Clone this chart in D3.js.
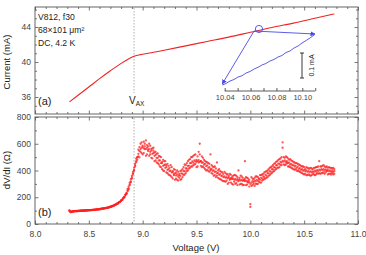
<!DOCTYPE html>
<html>
<head>
<meta charset="utf-8">
<script src="https://cdn.jsdelivr.net/npm/d3@7"></script>
<style>
  body { margin: 0; background: #fff; }
  svg { display: block; font-family: 'Liberation Sans', Arial, sans-serif; }
</style>
</head>
<body>
<svg id="chart" width="366" height="255"></svg>
<script>
// panel (a): current vs voltage
const currentV = [8.32, 8.4, 8.5, 8.6, 8.7, 8.8, 8.86, 8.92, 8.98, 9.05, 9.2, 9.4, 9.6, 9.8, 10.0, 10.2, 10.4, 10.6, 10.78]
const currentI = [35.45, 36.2, 37.15, 38.1, 39.0, 39.85, 40.3, 40.65, 40.85, 41.0, 41.35, 41.85, 42.35, 42.85, 43.4, 43.95, 44.45, 45.0, 45.5]

// inset loop (mA relative to lowest point)
const rampV = [10.0381, 10.041, 10.0441, 10.0472, 10.0503, 10.0534, 10.0565, 10.0596, 10.0627, 10.0658, 10.0688, 10.0719,
  10.075, 10.0781, 10.0812, 10.0843, 10.0874, 10.0905, 10.0936, 10.0967, 10.0998, 10.1029, 10.106, 10.1096]
const rampI = [0.0, 0.006, 0.016, 0.022, 0.032, 0.037, 0.048, 0.054, 0.064, 0.071, 0.08, 0.086,
  0.096, 0.102, 0.112, 0.118, 0.13, 0.136, 0.148, 0.156, 0.168, 0.178, 0.188, 0.202]
const jumpRightV = [10.0627, 10.1098]
const jumpRightI = [0.216, 0.204]
const jumpDownV = [10.0627, 10.0381]
const jumpDownI = [0.216, 0.004]
const markV = 10.0665
const markI = 0.224
const insetTicks = [10.04, 10.05, 10.06, 10.07, 10.08, 10.09, 10.1, 10.11]
const insetLabels = [10.04, 10.06, 10.08, 10.1]

// panel (b): differential resistance, three readings per voltage step
const sweepV = [
  8.32, 8.33, 8.34, 8.35, 8.36, 8.37, 8.38, 8.39, 8.40, 8.41,
  8.42, 8.43, 8.44, 8.45, 8.46, 8.47, 8.48, 8.49, 8.50, 8.51,
  8.52, 8.53, 8.54, 8.55, 8.56, 8.57, 8.58, 8.59, 8.60, 8.61,
  8.62, 8.63, 8.64, 8.65, 8.66, 8.67, 8.68, 8.69, 8.70, 8.71,
  8.72, 8.73, 8.74, 8.75, 8.76, 8.77, 8.78, 8.79, 8.80, 8.81,
  8.82, 8.83, 8.84, 8.85,
  8.86, 8.87, 8.88, 8.89, 8.90, 8.91, 8.92, 8.93, 8.94, 8.95,
  8.96, 8.97, 8.98, 8.99, 9.00, 9.01, 9.02, 9.03, 9.04, 9.05,
  9.06, 9.07, 9.08, 9.09, 9.10, 9.11, 9.12, 9.13, 9.14, 9.15,
  9.16, 9.17, 9.18, 9.19, 9.20, 9.21, 9.22, 9.23, 9.24, 9.25,
  9.26, 9.27, 9.28, 9.29, 9.30, 9.31, 9.32, 9.33, 9.34, 9.35,
  9.36, 9.37, 9.38, 9.39, 9.40, 9.41, 9.42, 9.43, 9.44, 9.45,
  9.46, 9.47, 9.48, 9.49, 9.50, 9.51, 9.52, 9.53, 9.54, 9.55,
  9.56, 9.57, 9.58, 9.59, 9.60, 9.61, 9.62, 9.63, 9.64, 9.65,
  9.66, 9.67, 9.68, 9.69, 9.70, 9.71, 9.72, 9.73, 9.74, 9.75,
  9.76, 9.77, 9.78, 9.79, 9.80, 9.81, 9.82, 9.83, 9.84, 9.85,
  9.86, 9.87, 9.88, 9.89, 9.90, 9.91, 9.92, 9.93, 9.94, 9.95,
  9.96, 9.97, 9.98, 9.99, 10.00, 10.01, 10.02, 10.03, 10.04, 10.05,
  10.06, 10.07, 10.08, 10.09, 10.10, 10.11, 10.12, 10.13, 10.14, 10.15,
  10.16, 10.17, 10.18, 10.19, 10.20, 10.21, 10.22, 10.23, 10.24, 10.25,
  10.26, 10.27, 10.28, 10.29, 10.30, 10.31, 10.32, 10.33, 10.34, 10.35,
  10.36, 10.37, 10.38, 10.39, 10.40, 10.41, 10.42, 10.43, 10.44, 10.45,
  10.46, 10.47, 10.48, 10.49, 10.50, 10.51, 10.52, 10.53, 10.54, 10.55,
  10.56, 10.57, 10.58, 10.59, 10.60, 10.61, 10.62, 10.63, 10.64, 10.65,
  10.66, 10.67, 10.68, 10.69, 10.70, 10.71, 10.72, 10.73, 10.74, 10.75,
  10.76, 10.77, 10.78]
const dvdiA = [
  102, 88, 92, 94, 95, 96, 95, 97, 97, 98,
  98, 99, 99, 100, 100, 101, 101, 102, 102, 103,
  104, 104, 105, 106, 107, 108, 109, 110, 111, 112,
  113, 115, 116, 118, 119, 121, 123, 126, 128, 131,
  134, 137, 141, 145, 150, 155, 160, 167, 174, 182,
  192, 203, 216, 230,
  262, 258, 310, 312, 360, 372, 398, 452, 470, 500,
  555, 498, 600, 530, 520, 615, 560, 510, 590, 545,
  600, 520, 495, 565, 548, 470, 540, 525, 455, 510,
  430, 500, 465, 400, 470, 445, 385, 450, 370, 420,
  440, 350, 395, 410, 330, 385, 400, 325, 375, 395,
  335, 410, 365, 445, 380, 455, 400, 480, 420, 500,
  430, 510, 445, 520, 465, 430, 540, 600, 470, 425,
  495, 420, 470, 400, 460, 455, 390, 520, 380, 430,
  360, 430, 350, 460, 400, 340, 395, 330, 385, 320,
  390, 315, 370, 300, 360, 375, 310, 350, 295, 365,
  300, 360, 290, 400, 345, 300, 355, 290, 330, 470,
  290, 345, 310, 280, 128, 350, 290, 335, 285, 355,
  355, 300, 340, 365, 310, 370, 330, 385, 340, 395,
  350, 410, 365, 425, 380, 440, 395, 455, 410, 470,
  480, 425, 490, 440, 610, 500, 440, 505, 455, 430,
  430, 485, 420, 470, 410, 460, 455, 400, 450, 395,
  440, 385, 430, 375, 425, 410, 365, 420, 370, 415,
  360, 415, 375, 420, 365, 425, 380, 430, 470, 375,
  430, 380, 440, 375, 425, 395, 370, 425, 375, 420,
  380, 420, 375]
const dvdiB = [
  98, 92, 90, 96, 93, 97, 98, 95, 99, 97,
  100, 98, 101, 99, 102, 100, 103, 101, 104, 102,
  103, 106, 104, 107, 106, 109, 108, 111, 110, 113,
  114, 114, 117, 117, 121, 120, 125, 124, 130, 129,
  136, 135, 143, 144, 152, 153, 163, 165, 177, 180,
  196, 200, 220, 226,
  245, 282, 290, 335, 340, 390, 420, 430, 488, 480,
  505, 575, 540, 610, 585, 530, 600, 625, 520, 580,
  510, 585, 560, 490, 570, 535, 475, 460, 528, 445,
  505, 425, 410, 480, 395, 470, 440, 380, 435, 365,
  360, 425, 340, 365, 405, 340, 330, 390, 345, 330,
  400, 350, 425, 370, 440, 395, 470, 415, 485, 430,
  500, 440, 515, 450, 425, 505, 460, 520, 435, 505,
  430, 480, 410, 465, 405, 395, 450, 400, 440, 375,
  425, 365, 415, 360, 345, 410, 335, 390, 325, 375,
  320, 380, 325, 372, 310, 330, 368, 300, 360, 315,
  365, 305, 350, 320, 295, 362, 300, 345, 292, 340,
  350, 295, 340, 330, 148, 285, 340, 300, 345, 300,
  300, 350, 315, 310, 365, 325, 375, 335, 390, 345,
  400, 360, 420, 375, 430, 390, 450, 405, 465, 420,
  420, 485, 440, 500, 570, 445, 495, 445, 500, 490,
  480, 425, 475, 415, 465, 405, 410, 455, 395, 445,
  390, 435, 380, 430, 370, 375, 425, 365, 415, 365,
  420, 365, 410, 370, 420, 370, 425, 375, 380, 430,
  380, 435, 385, 430, 385, 430, 420, 375, 420, 370,
  415, 370, 410]
const dvdiC = [
  100, 90, 91, 95, 94, 96, 97, 96, 98, 98,
  99, 99, 100, 100, 101, 101, 102, 102, 103, 103,
  104, 105, 105, 106, 107, 108, 109, 110, 111, 112,
  114, 115, 117, 117, 120, 121, 124, 125, 129, 130,
  135, 136, 142, 145, 151, 154, 162, 166, 175, 181,
  194, 202, 218, 228,
  250, 268, 298, 318, 348, 378, 402, 440, 462, 498,
  525, 545, 560, 570, 575, 565, 580, 560, 570, 555,
  560, 540, 548, 525, 530, 510, 515, 495, 495, 475,
  475, 455, 455, 435, 440, 420, 425, 405, 410, 395,
  398, 385, 388, 372, 378, 362, 370, 355, 365, 360,
  378, 375, 395, 395, 415, 415, 435, 435, 455, 455,
  468, 460, 475, 468, 480, 470, 478, 465, 470, 458,
  460, 445, 450, 432, 438, 420, 425, 410, 412, 398,
  400, 388, 392, 378, 382, 368, 372, 358, 362, 350,
  355, 345, 350, 342, 348, 338, 342, 335, 340, 330,
  338, 328, 335, 326, 333, 325, 330, 322, 328, 320,
  325, 315, 322, 312, 300, 310, 320, 312, 325, 318,
  330, 322, 338, 330, 345, 340, 355, 350, 368, 362,
  380, 378, 395, 392, 410, 408, 425, 422, 440, 438,
  452, 450, 465, 460, 472, 466, 475, 463, 470, 455,
  460, 445, 450, 438, 442, 430, 435, 420, 428, 412,
  418, 405, 410, 398, 405, 393, 400, 390, 396, 386,
  394, 386, 394, 388, 398, 392, 402, 396, 406, 400,
  410, 402, 410, 400, 408, 398, 404, 394, 400, 390,
  398, 390, 395]

const vAX = 8.92
const xMajor = [8.0, 8.5, 9.0, 9.5, 10.0, 10.5, 11.0]
const xMinor = [8.1, 8.2, 8.3, 8.4, 8.6, 8.7, 8.8, 8.9, 9.1, 9.2, 9.3, 9.4, 9.6, 9.7, 9.8, 9.9,
  10.1, 10.2, 10.3, 10.4, 10.6, 10.7, 10.8, 10.9]
const iMajor = [36, 40, 44]
const iMinor = [35, 37, 38, 39, 41, 42, 43, 45, 46]
const rMajor = [0, 200, 400, 600, 800]
const rMinor = [100, 300, 500, 700]

const svg = d3.select('#chart')
const red = '#ee2424'
const blue = '#4a4ae6'
const axisCol = '#555'
const textCol = '#444'

const x = d3.scaleLinear().domain([8, 11]).range([35, 358])
const yI = d3.scaleLinear().domain([34.06, 46.29]).range([114, 7])
const yR = d3.scaleLinear().domain([0, 800]).range([224, 117])

// inward ticks, optional labels
function ticks(g, axis, vals, size, pad, labels) {
  g.call(axis.tickValues(vals).tickSize(size).tickSizeOuter(0).tickPadding(pad)
    .tickFormat(labels ? d3.format('.1f') : ''))
  g.select('.domain').remove()
  g.selectAll('line').attr('stroke', axisCol).attr('stroke-width', 0.8)
  g.selectAll('text').attr('fill', textCol).style('font-size', '8.5px')
  return g
}

function frame(top, bottom, yScale, major, minor, showX) {
  const w = x.range()[1] - x.range()[0]
  // x ticks on both edges
  ticks(svg.append('g').attr('transform', `translate(0,${bottom})`), d3.axisBottom(x), xMajor, -3.5, 7, showX)
  ticks(svg.append('g').attr('transform', `translate(0,${bottom})`), d3.axisBottom(x), xMinor, -2, 7, false)
  ticks(svg.append('g').attr('transform', `translate(0,${top})`), d3.axisTop(x), xMajor, -3.5, 0, false)
  ticks(svg.append('g').attr('transform', `translate(0,${top})`), d3.axisTop(x), xMinor, -2, 0, false)
  // y ticks on both sides
  const left = ticks(svg.append('g').attr('transform', `translate(${x.range()[0]},0)`), d3.axisLeft(yScale), major, -3.5, 4, true)
  left.selectAll('text').text((d) => d)
  ticks(svg.append('g').attr('transform', `translate(${x.range()[0]},0)`), d3.axisLeft(yScale), minor, -2, 4, false)
  ticks(svg.append('g').attr('transform', `translate(${x.range()[1]},0)`), d3.axisRight(yScale), major, -3.5, 0, false)
  ticks(svg.append('g').attr('transform', `translate(${x.range()[1]},0)`), d3.axisRight(yScale), minor, -2, 0, false)

  svg.append('rect')
    .attr('x', x.range()[0]).attr('y', top)
    .attr('width', w).attr('height', bottom - top)
    .attr('fill', 'none').attr('stroke', axisCol).attr('stroke-width', 0.9)
}

// panel (a) --------------------------------------------
function drawTop() {
  frame(7, 114, yI, iMajor, iMinor, false)

  svg.append('line')
    .attr('x1', x(vAX)).attr('x2', x(vAX)).attr('y1', 8).attr('y2', 93)
    .attr('stroke', '#999').attr('stroke-width', 0.8).attr('stroke-dasharray', '1.5,1.5')

  const line = d3.line().x((d) => x(d[0])).y((d) => yI(d[1])).curve(d3.curveMonotoneX)
  svg.append('path')
    .datum(d3.zip(currentV, currentI))
    .attr('d', line)
    .attr('fill', 'none').attr('stroke', red).attr('stroke-width', 1.1)

  const info = ['V812, f30', '68×101 μm²', 'DC, 4.2 K']
  svg.selectAll('.info')
    .data(info)
    .join('text')
    .attr('x', 38).attr('y', (d, i) => 19.5 + i * 13.3)
    .attr('fill', '#222').style('font-size', '8.6px')
    .text((d) => d)

  svg.append('text').attr('x', 38).attr('y', 105).attr('fill', '#222').style('font-size', '11px').text('(a)')

  const vl = svg.append('text').attr('x', 129).attr('y', 104).attr('fill', '#222').style('font-size', '10px')
  vl.append('tspan').text('V')
  vl.append('tspan').attr('dy', 2).style('font-size', '6.5px').text('AX')

  svg.append('text')
    .attr('transform', 'translate(10,62) rotate(-90)')
    .attr('text-anchor', 'middle').attr('fill', '#222').style('font-size', '9.5px')
    .text('Current (mA)')

  drawInset()
}

function drawInset() {
  const xs = d3.scaleLinear().domain([10.04, 10.1]).range([224.7, 302.3])
  const ys = d3.scaleLinear().domain([0, 0.1]).range([85, 60])

  const defs = svg.append('defs')
  defs.append('marker')
    .attr('id', 'arrow').attr('viewBox', '0 0 10 10').attr('refX', 9).attr('refY', 5)
    .attr('markerWidth', 5).attr('markerHeight', 5).attr('markerUnits', 'userSpaceOnUse')
    .attr('orient', 'auto')
    .append('path').attr('d', 'M0,0L10,5L0,10Z').attr('fill', blue)

  const line = d3.line().x((d) => xs(d[0])).y((d) => ys(d[1]))
  svg.append('path').datum(d3.zip(rampV, rampI)).attr('d', line)
    .attr('fill', 'none').attr('stroke', blue).attr('stroke-width', 0.9)
  svg.append('path').datum(d3.zip(jumpRightV, jumpRightI)).attr('d', line)
    .attr('fill', 'none').attr('stroke', blue).attr('stroke-width', 0.9).attr('marker-end', 'url(#arrow)')
  svg.append('path').datum(d3.zip(jumpDownV, jumpDownI)).attr('d', line)
    .attr('fill', 'none').attr('stroke', blue).attr('stroke-width', 0.9).attr('marker-end', 'url(#arrow)')
  svg.append('circle').attr('cx', xs(markV)).attr('cy', ys(markI)).attr('r', 3.6)
    .attr('fill', 'none').attr('stroke', blue).attr('stroke-width', 0.9)

  // inset voltage axis
  const g = svg.append('g').attr('transform', 'translate(0,91)')
  g.call(d3.axisBottom(xs).tickValues(insetTicks).tickSize(-3).tickSizeOuter(0).tickPadding(4)
    .tickFormat((d) => (insetLabels.some((v) => Math.abs(v - d) < 1e-6) ? d3.format('.2f')(d) : '')))
  g.select('.domain').attr('d', `M${xs(10.04)},0H${xs(10.11)}`).attr('stroke', '#333').attr('stroke-width', 0.8)
  g.selectAll('line').attr('stroke', '#333').attr('stroke-width', 0.8)
  g.selectAll('text').attr('fill', textCol).style('font-size', '7.5px')

  // 0.1 mA scale bar
  const bx = 302
  svg.append('path')
    .attr('d', `M${bx - 2},${ys(0.1) - 7}H${bx + 2}M${bx},${ys(0.1) - 7}V${ys(0) - 7}M${bx - 2},${ys(0) - 7}H${bx + 2}`)
    .attr('stroke', '#222').attr('stroke-width', 0.9).attr('fill', 'none')
  svg.append('text')
    .attr('transform', `translate(314,${(ys(0.1) + ys(0)) / 2 - 7}) rotate(-90)`)
    .attr('text-anchor', 'middle').attr('fill', '#222').style('font-size', '7px')
    .text('0.1 mA')
}

// panel (b) --------------------------------------------
function drawBottom() {
  frame(117, 224, yR, rMajor, rMinor, true)

  svg.append('line')
    .attr('x1', x(vAX)).attr('x2', x(vAX)).attr('y1', 118).attr('y2', 223)
    .attr('stroke', '#999').attr('stroke-width', 0.8).attr('stroke-dasharray', '1.5,1.5')

  const pts = d3.zip(sweepV, dvdiA).concat(d3.zip(sweepV, dvdiB), d3.zip(sweepV, dvdiC))
  svg.append('g')
    .selectAll('circle')
    .data(pts)
    .join('circle')
    .attr('cx', (d) => x(d[0]))
    .attr('cy', (d) => yR(d[1]))
    .attr('r', 1.15)
    .attr('fill', '#ff1f1f')
    .attr('opacity', 0.75)

  svg.append('text').attr('x', 38).attr('y', 216).attr('fill', '#222').style('font-size', '11px').text('(b)')

  svg.append('text')
    .attr('transform', 'translate(10,170) rotate(-90)')
    .attr('text-anchor', 'middle').attr('fill', '#222').style('font-size', '9.5px')
    .text('dV/dI (Ω)')

  svg.append('text')
    .attr('x', 196).attr('y', 251)
    .attr('text-anchor', 'middle').attr('fill', '#222').style('font-size', '9.5px')
    .text('Voltage (V)')
}

drawTop()
drawBottom()
</script>
</body>
</html>
